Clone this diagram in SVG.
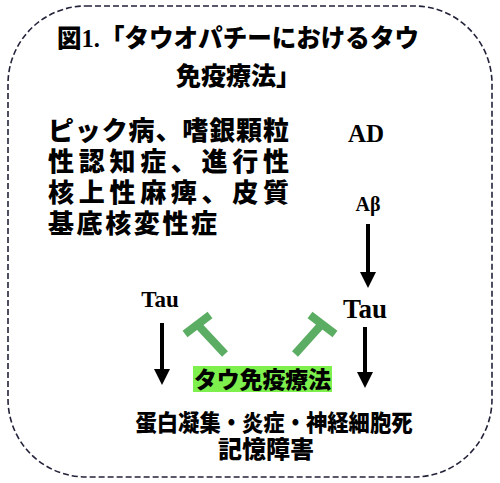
<svg xmlns="http://www.w3.org/2000/svg" width="500" height="483" viewBox="0 0 500 483">
<style>
.cjk{font-family:"Liberation Serif","Noto Sans CJK JP",serif;font-weight:900;fill:#000}
.lat{font-family:"Liberation Serif","Times New Roman",serif;fill:#000;font-weight:bold}
.arr{stroke:#000;stroke-width:4;fill:none}
.inh{stroke:#5aad62;stroke-width:8;fill:none}
</style>
<rect x="8" y="6" width="484" height="471" rx="78" ry="78" fill="#fff" stroke="#22223a" stroke-width="1.6" stroke-dasharray="6 3"/>
<g id="title">
<text class="cjk" x="57" y="47" font-size="25" textLength="362" lengthAdjust="spacingAndGlyphs">図1.「タウオパチーにおけるタウ</text>
<text class="cjk" x="176" y="85" font-size="25">免疫療法」</text>
</g>
<g id="diseases">
<text class="cjk" x="48" y="140" font-size="26" textLength="241" lengthAdjust="spacing">ピック病、嗜銀顆粒</text>
<text class="cjk" x="48" y="171" font-size="26" textLength="241" lengthAdjust="spacing">性認知症、進行性</text>
<text class="cjk" x="48" y="202" font-size="26" textLength="241" lengthAdjust="spacing">核上性麻痺、皮質</text>
<text class="cjk" x="48" y="233" font-size="26" textLength="169" lengthAdjust="spacing">基底核変性症</text>
</g>
<g id="ad"><text class="lat" x="366" y="142" font-size="25" text-anchor="middle">AD</text></g>
<g id="abeta"><text class="lat" x="368" y="211" font-size="20" text-anchor="middle">Aβ</text></g>
<g id="tau-right"><text class="lat" x="365" y="318" font-size="27" text-anchor="middle">Tau</text></g>
<g id="tau-left"><text class="lat" x="160" y="307" font-size="23" text-anchor="middle">Tau</text></g>
<g id="therapy">
<rect x="193" y="366" width="139" height="26" fill="#7ef04e"/>
<text class="cjk" x="262.5" y="388" font-size="23" text-anchor="middle" textLength="137" lengthAdjust="spacingAndGlyphs">タウ免疫療法</text>
</g>
<g id="outcome">
<text class="cjk" x="274" y="431" font-size="23" text-anchor="middle" textLength="277" lengthAdjust="spacingAndGlyphs">蛋白凝集・炎症・神経細胞死</text>
<text class="cjk" x="266" y="458" font-size="24" text-anchor="middle">記憶障害</text>
</g>
<g id="connectors">
<line class="arr" x1="368" y1="224" x2="368" y2="274"/>
<path d="M360,272 L376,272 L368,288 Z" fill="#000"/>
<line class="arr" x1="162" y1="323" x2="162" y2="371"/>
<path d="M154,369 L170,369 L162,385 Z" fill="#000"/>
<line class="arr" x1="365" y1="327" x2="365" y2="374"/>
<path d="M357,372 L373,372 L365,388 Z" fill="#000"/>
<line class="inh" x1="225" y1="354" x2="197" y2="324"/>
<line class="inh" x1="185" y1="334" x2="210" y2="315"/>
<line class="inh" x1="295" y1="354" x2="322" y2="324"/>
<line class="inh" x1="335" y1="334" x2="310" y2="315"/>
</g>
</svg>
